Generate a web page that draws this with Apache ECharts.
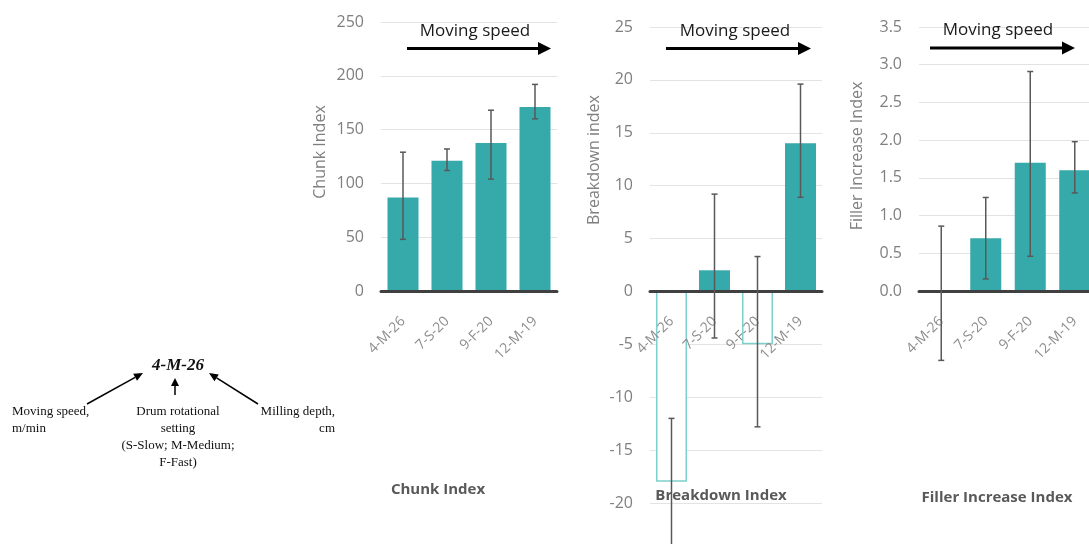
<!DOCTYPE html>
<html>
<head>
<meta charset="utf-8">
<script src="https://cdn.jsdelivr.net/npm/echarts@6/dist/echarts.min.js"></script>
<style>
  html, body { margin: 0; padding: 0; background: #fff; }
  #chart { width: 1089px; height: 544px; }
</style>
</head>
<body>
<div id="chart"></div>
<script>
// Treatment codes: moving speed - drum rotational setting - milling depth
const categories = ['4-M-26', '7-S-20', '9-F-20', '12-M-19'];

// Chunk Index: mean and error-bar extent
const chunkMean = [87, 121, 137.5, 171];
const chunkLow  = [48, 112, 104, 160];
const chunkHigh = [129, 132, 168, 192];

// Breakdown index: mean and error-bar extent
const breakdownMean = [-18, 2, -5, 14];
const breakdownLow  = [-24, -4.4, -12.8, 8.9];
const breakdownHigh = [-12, 9.2, 3.3, 19.6];

// Filler Increase Index: mean and error-bar extent
const fillerMean = [0, 0.7, 1.7, 1.6];
const fillerLow  = [-0.92, 0.16, 0.46, 1.30];
const fillerHigh = [0.86, 1.24, 2.91, 1.98];

const TEAL = '#36a9aa';
const TEAL_LIGHT = '#7fcfcc';
const AXIS_GREY = '#404040';
const TICK_GREY = '#7f7f7f';
const FONT = '"Open Sans", "Noto Sans", sans-serif';

const chart = echarts.init(document.getElementById('chart'), null, { renderer: 'canvas' });

function errorData(lo, hi) {
  return lo.map((v, i) => [i, v, hi[i]]);
}

function renderErrorBar(params, api) {
  const x = api.value(0);
  const top = api.coord([x, api.value(2)]);
  const bot = api.coord([x, api.value(1)]);
  const cap = 3;
  const style = { stroke: '#595959', lineWidth: 1.5 };
  return {
    type: 'group',
    children: [
      { type: 'line', shape: { x1: top[0], y1: top[1], x2: bot[0], y2: bot[1] }, style },
      { type: 'line', shape: { x1: top[0] - cap, y1: top[1], x2: top[0] + cap, y2: top[1] }, style },
      { type: 'line', shape: { x1: bot[0] - cap, y1: bot[1], x2: bot[0] + cap, y2: bot[1] }, style }
    ]
  };
}

// Negative means drawn as outlined (hollow) bars
function barData(values) {
  return values.map(v => v < 0
    ? { value: v, itemStyle: { color: '#ffffff', borderColor: TEAL_LIGHT, borderWidth: 1.5 } }
    : { value: v });
}

// offset lifts an axis from the grid bottom up to the zero line
function xAxisFor(gridIndex, offset) {
  return {
    type: 'category', gridIndex, data: categories, z: 3,
    position: 'bottom', offset: offset || 0,
    axisLine: { onZero: false, lineStyle: { color: AXIS_GREY, width: 3 } },
    axisTick: { show: false },
    axisLabel: { rotate: 45, color: '#8c8c8c', fontSize: 14, fontFamily: FONT, margin: 28 },
    splitLine: { show: false }
  };
}

function yAxisFor(gridIndex, min, max, interval, decimals) {
  return {
    type: 'value', gridIndex, min, max, interval,
    axisLine: { show: false },
    axisTick: { show: false },
    axisLabel: {
      color: TICK_GREY, fontSize: 16, fontFamily: FONT, margin: 17,
      formatter: v => decimals ? v.toFixed(decimals) : String(v)
    },
    splitLine: { lineStyle: { color: '#e3e3e3', width: 1 } }
  };
}

// Arrow made of a shaft and a filled head
function arrow(x1, y1, x2, y2, lw, headLen, headW) {
  const ang = Math.atan2(y2 - y1, x2 - x1);
  const bx = x2 - headLen * Math.cos(ang);
  const by = y2 - headLen * Math.sin(ang);
  const nx = -Math.sin(ang) * headW / 2;
  const ny = Math.cos(ang) * headW / 2;
  return [
    { type: 'line', silent: true, shape: { x1, y1, x2: bx, y2: by }, style: { stroke: '#000', lineWidth: lw } },
    { type: 'polygon', silent: true, shape: { points: [[x2, y2], [bx + nx, by + ny], [bx - nx, by - ny]] }, style: { fill: '#000' } }
  ];
}

function text(x, y, str, opts) {
  return {
    type: 'text', silent: true, x, y, z: 10,
    style: Object.assign({
      text: str, fill: '#000', fontSize: 16, fontFamily: FONT,
      align: 'center', verticalAlign: 'middle'
    }, opts || {})
  };
}

function rotText(x, y, str) {
  return {
    type: 'text', silent: true, x, y, rotation: Math.PI / 2,
    style: { text: str, fill: TICK_GREY, fontSize: 16, fontFamily: FONT, align: 'center', verticalAlign: 'middle' }
  };
}

const SERIF = '"Liberation Serif", "DejaVu Serif", serif';
const serif = (align) => ({ fontSize: 13, fontFamily: SERIF, align, fill: '#111' });

const graphics = [
  // axis names
  rotText(320, 152, 'Chunk Index'),
  rotText(594, 160, 'Breakdown index'),
  rotText(857, 156, 'Filler Increase Index'),
  // panel titles
  text(438, 490, 'Chunk Index', { fontSize: 15, fontWeight: 'bold', fill: '#595959' }),
  text(721, 496, 'Breakdown Index', { fontSize: 15, fontWeight: 'bold', fill: '#595959' }),
  text(997, 498, 'Filler Increase Index', { fontSize: 15, fontWeight: 'bold', fill: '#595959' }),
  // moving-speed annotations
  text(475, 31, 'Moving speed', { fontSize: 17, fill: '#1a1a1a' }),
  ...arrow(407, 48.5, 551, 48.5, 3.2, 13, 13),
  text(735, 31, 'Moving speed', { fontSize: 17, fill: '#1a1a1a' }),
  ...arrow(666, 48.5, 811, 48.5, 3.2, 13, 13),
  text(998, 30, 'Moving speed', { fontSize: 17, fill: '#1a1a1a' }),
  ...arrow(930, 48, 1075, 48, 3.2, 13, 13),
  // treatment code legend
  text(178, 366, '4-M-26', { fontSize: 17, fontFamily: SERIF, fontWeight: 'bold', fontStyle: 'italic', fill: '#111' }),
  ...arrow(87, 404, 143, 373, 1.5, 9, 8),
  ...arrow(175, 395, 175, 378, 1.5, 8, 8),
  ...arrow(258, 404, 209, 373, 1.5, 9, 8),
  text(12, 412, 'Moving speed,', serif('left')),
  text(12, 429, 'm/min', serif('left')),
  text(178, 412, 'Drum rotational', serif('center')),
  text(178, 429, 'setting', serif('center')),
  text(178, 446, '(S-Slow; M-Medium;', serif('center')),
  text(178, 463, 'F-Fast)', serif('center')),
  text(335, 412, 'Milling depth,', serif('right')),
  text(335, 429, 'cm', serif('right'))
];

const option = {
  animation: false,
  backgroundColor: '#ffffff',
  grid: [
    { left: 381, right: 532, top: 22, bottom: 253, outerBoundsMode: 'none', containLabel: false },
    { left: 650, right: 267, top: 27, bottom: 41, outerBoundsMode: 'none', containLabel: false },
    { left: 919, right: -8, top: 27, bottom: 253, outerBoundsMode: 'none', containLabel: false }
  ],
  xAxis: [xAxisFor(0), xAxisFor(1, -212), xAxisFor(2)],
  yAxis: [
    yAxisFor(0, 0, 250, 50, 0),
    yAxisFor(1, -20, 25, 5, 0),
    yAxisFor(2, 0, 3.5, 0.5, 1)
  ],
  series: [
    { type: 'bar', xAxisIndex: 0, yAxisIndex: 0, data: barData(chunkMean), barWidth: 31, itemStyle: { color: TEAL } },
    { type: 'bar', xAxisIndex: 1, yAxisIndex: 1, data: barData(breakdownMean), barWidth: 31, itemStyle: { color: TEAL } },
    { type: 'bar', xAxisIndex: 2, yAxisIndex: 2, data: barData(fillerMean), barWidth: 31, itemStyle: { color: TEAL } },
    { type: 'custom', xAxisIndex: 0, yAxisIndex: 0, z: 5, clip: false, renderItem: renderErrorBar, encode: { x: 0, y: [1, 2] }, data: errorData(chunkLow, chunkHigh) },
    { type: 'custom', xAxisIndex: 1, yAxisIndex: 1, z: 5, clip: false, renderItem: renderErrorBar, encode: { x: 0, y: [1, 2] }, data: errorData(breakdownLow, breakdownHigh) },
    { type: 'custom', xAxisIndex: 2, yAxisIndex: 2, z: 5, clip: false, renderItem: renderErrorBar, encode: { x: 0, y: [1, 2] }, data: errorData(fillerLow, fillerHigh) }
  ],
  graphic: graphics
};

chart.setOption(option);
</script>
</body>
</html>
